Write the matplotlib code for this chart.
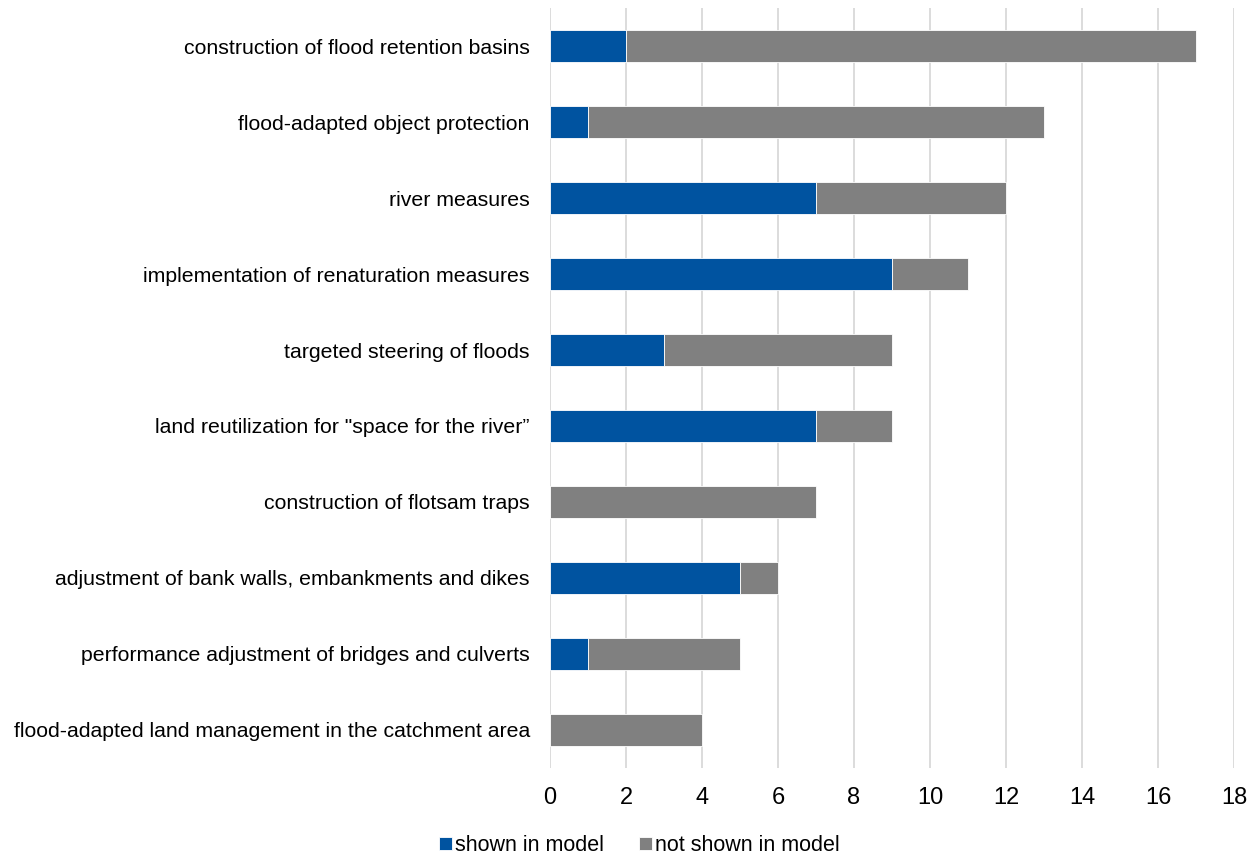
import numpy as np
import matplotlib.pyplot as plt

plt.rcParams['font.family'] = ['Liberation Sans', 'DejaVu Sans']

# Measures, top to bottom
measures = [
    "construction of flood retention basins",
    "flood-adapted object protection",
    "river measures",
    "implementation of renaturation measures",
    "targeted steering of floods",
    "land reutilization for \"space for the river\u201d",
    "construction of flotsam traps",
    "adjustment of bank walls, embankments and dikes",
    "performance adjustment of bridges and culverts",
    "flood-adapted land management in the catchment area",
]
shown = [2, 1, 7, 9, 3, 7, 0, 5, 1, 0]
not_shown = [15, 12, 5, 2, 6, 2, 7, 1, 4, 4]

blue = "#0053A0"
grey = "#808080"

fig = plt.figure(figsize=(12.51, 8.55), dpi=100)
ax = fig.add_axes([0.4396, 0.1018, 0.5468, 0.8888])

y = np.arange(len(measures))
ax.barh(y, shown, height=0.42, color=blue, edgecolor="white", linewidth=0.6,
        label="shown in model", zorder=3)
ax.barh(y, not_shown, left=shown, height=0.42, color=grey, edgecolor="white",
        linewidth=0.6, label="not shown in model", zorder=3)

ax.set_yticks(y)
ax.set_yticklabels(measures, fontsize=15.3)
ax.set_ylim(len(measures) - 0.5, -0.5)
ax.set_xlim(0, 18)
ax.set_xticks(range(0, 19, 2))
ax.tick_params(axis='x', labelsize=17, length=0, pad=14)
ax.tick_params(axis='y', length=0, pad=14.5)
ax.grid(axis='x', color="#d9d9d9", linewidth=1.3, zorder=0)
for s in ax.spines.values():
    s.set_visible(False)

fig.legend(loc="center", bbox_to_anchor=(0.511, 0.011), ncol=2,
           frameon=False, fontsize=15.5, handlelength=0.6, handleheight=0.6,
           handletextpad=0.15, columnspacing=1.6)

fig.savefig("out.png", dpi=100)
